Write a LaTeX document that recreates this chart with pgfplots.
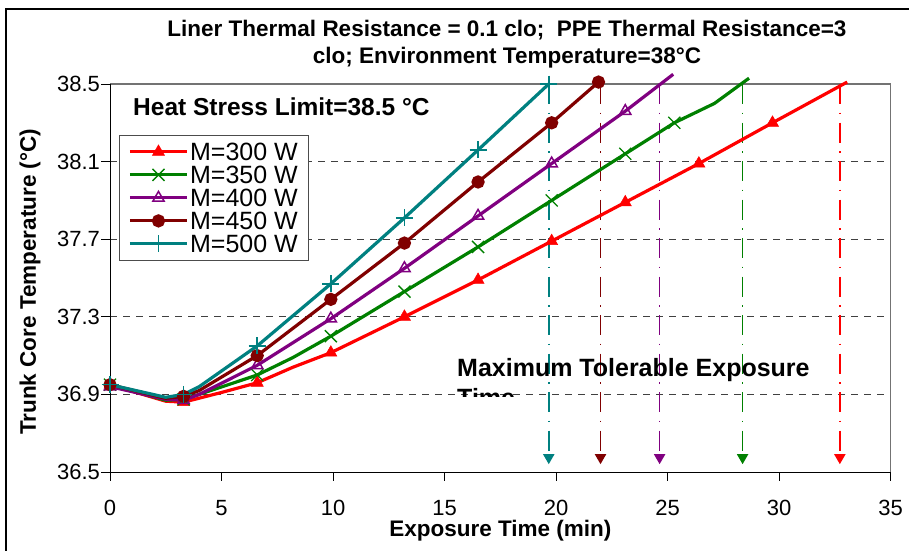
\documentclass[border=0pt]{standalone}
\usepackage{fontspec}
\setmainfont{Liberation Sans}
\usepackage{pgfplots}
\pgfplotsset{compat=1.18}
\definecolor{cRed}{RGB}{255,0,0}
\definecolor{cGreen}{RGB}{0,128,0}
\definecolor{cPurple}{RGB}{128,0,128}
\definecolor{cMaroon}{RGB}{128,0,0}
\definecolor{cTeal}{RGB}{0,128,128}
\begin{document}
\begin{tikzpicture}
\begin{axis}[
  at={(110pt,78pt)}, anchor=south west,
  width=780.7pt, height=388pt, scale only axis,
  xmin=0, xmax=35, ymin=36.5, ymax=38.5,
  clip=false,
  axis line style={draw=none},
  xtick={0,5,10,15,20,25,30,35},
  xticklabels={0,5,10,15,20,25,30,35},
  ytick={36.5,36.9,37.3,37.7,38.1,38.5},
  yticklabels={36.5,36.9,37.3,37.7,38.1,38.5},
  tick pos=left,
  tick align=outside, major tick length=8.5pt,
  tick style={black, line width=0.9pt},
  tick label style={font=\fontsize{22}{22}\selectfont},
  xticklabel style={yshift=-16pt},
  yticklabel style={xshift=2pt},
  ymajorgrids,
  major grid style={black!75, line width=1pt, dash pattern=on 7pt off 6pt},
  xlabel={Exposure Time (min)},
  ylabel={Trunk Core Temperature (°C)},
  xlabel style={at={(axis description cs:0.5,-0.152)}, anchor=center, font=\bfseries\fontsize{22.5}{22.5}\selectfont},
  ylabel style={at={(axis description cs:-0.1024,0.49)}, anchor=center, font=\bfseries\fontsize{22.5}{22.5}\selectfont},
  legend cell align=left,
  legend style={at={(0.0115,0.8686)}, anchor=north west, draw=black!70, line width=0.8pt, fill=white,
    font=\fontsize{25}{25}\selectfont, inner xsep=9pt, inner ysep=5pt, row sep=0pt,
    nodes={inner sep=1.5pt, text height=18.5pt, text depth=1.5pt}},
  legend image code/.code={\draw[#1, mark indices={2}] plot coordinates {(0pt,0pt) (28.5pt,0pt) (57pt,0pt)};},
  dropline/.style={line width=1.7pt, dash pattern=on 20pt off 8.5pt on 1.5pt off 8.5pt, mark=triangle*, mark size=5pt, mark options={solid, rotate=180}, mark indices={2}, forget plot},
]
\draw[black!55, line width=1.5pt] (rel axis cs:0,1) -- (rel axis cs:1,1) -- (rel axis cs:1,0);
\draw[black, line width=1pt] (rel axis cs:0,1) -- (rel axis cs:0,0) -- (rel axis cs:1,0);

% drop lines (maximum tolerable exposure time)
\addplot[cTeal, dropline] coordinates {(19.67,38.5) (19.67,36.575)};
\addplot[cMaroon, dropline] coordinates {(21.99,38.5) (21.99,36.575)};
\addplot[cPurple, dropline] coordinates {(24.64,38.5) (24.64,36.575)};
\addplot[cGreen, dropline] coordinates {(28.36,38.5) (28.36,36.575)};
\addplot[cRed, dropline] coordinates {(32.72,38.5) (32.72,36.575)};

% M=300 W
\addplot[cRed, line width=3.2pt, mark=triangle*, mark size=7pt, mark options={solid, line width=0.5pt}, mark indices={1,3,5,7,8,9,10,11,12,13}] coordinates {
(0,36.95) (2.5,36.865) (3.3,36.86) (5.0,36.91) (6.6,36.96) (8.2,37.04) (9.9,37.115) (13.2,37.30) (16.5,37.49) (19.8,37.69) (23.1,37.89) (26.4,38.09) (29.7,38.30) (33.05,38.51)};
\addlegendentry{M=300 W}
% M=350 W
\addplot[cGreen, line width=3.2pt, mark=x, mark size=8.5pt, mark options={solid, line width=1.3pt}, mark indices={1,3,5,7,8,9,10,11,12}] coordinates {
(0,36.95) (2.5,36.87) (3.3,36.875) (4.0,36.90) (6.6,37.00) (8.2,37.09) (9.9,37.20) (13.2,37.43) (16.5,37.66) (19.8,37.90) (23.1,38.14) (25.3,38.30) (27.1,38.40) (28.65,38.53)};
\addlegendentry{M=350 W}
% M=400 W
\addplot[cPurple, line width=3.2pt, mark=triangle, mark size=6.5pt, mark options={solid, fill=white, line width=1.5pt}, mark indices={1,3,5,6,7,8,9,10}] coordinates {
(0,36.94) (2.5,36.875) (3.3,36.87) (4.0,36.90) (6.6,37.05) (9.9,37.29) (13.2,37.55) (16.5,37.82) (19.8,38.09) (23.1,38.36) (25.25,38.55)};
\addlegendentry{M=400 W}
% M=450 W
\addplot[cMaroon, line width=3.2pt, mark=*, mark size=5pt, mark options={solid}, mark indices={1,3,5,6,7,8,9,10}] coordinates {
(0,36.95) (2.5,36.88) (3.3,36.89) (4.0,36.92) (6.6,37.10) (9.9,37.39) (13.2,37.68) (16.5,37.995) (19.8,38.30) (21.9,38.51)};
\addlegendentry{M=450 W}
% M=500 W
\addplot[cTeal, line width=3.2pt, mark=+, mark size=8.5pt, mark options={solid, line width=1.5pt}, mark indices={1,3,5,6,7,8,9}] coordinates {
(0,36.95) (2.5,36.885) (3.3,36.90) (4.0,36.94) (6.6,37.15) (9.9,37.47) (13.2,37.81) (16.5,38.16) (19.67,38.5)};
\addlegendentry{M=500 W}
\end{axis}

\node[anchor=base, inner sep=0pt, font=\bfseries\fontsize{22.5}{22.5}\selectfont] at (507pt,513pt) {Liner Thermal Resistance = 0.1 clo;\ \ PPE Thermal Resistance=3};
\node[anchor=base, inner sep=0pt, font=\bfseries\fontsize{22.5}{22.5}\selectfont] at (507pt,486pt) {clo; Environment Temperature=38°C};
\node[anchor=west, inner sep=0pt, font=\bfseries\fontsize{24.5}{24.5}\selectfont] at (133pt,443.3pt) {Heat Stress Limit=38.5 °C};
\begin{scope}
\clip (440pt,153.5pt) rectangle (900pt,200pt);
\node[anchor=base west, inner sep=0pt, font=\bfseries\fontsize{25}{25}\selectfont] at (457pt,174pt) {Maximum Tolerable Exposure};
\node[anchor=base west, inner sep=0pt, font=\bfseries\fontsize{25}{25}\selectfont] at (457pt,143.3pt) {Time};
\end{scope}
\draw[black, line width=1.3pt] (6pt,-5pt) -- (6pt,541pt) -- (915pt,541pt);
\pgfresetboundingbox
\useasboundingbox (0,0) rectangle (909pt,550pt);
\end{tikzpicture}
\end{document}
